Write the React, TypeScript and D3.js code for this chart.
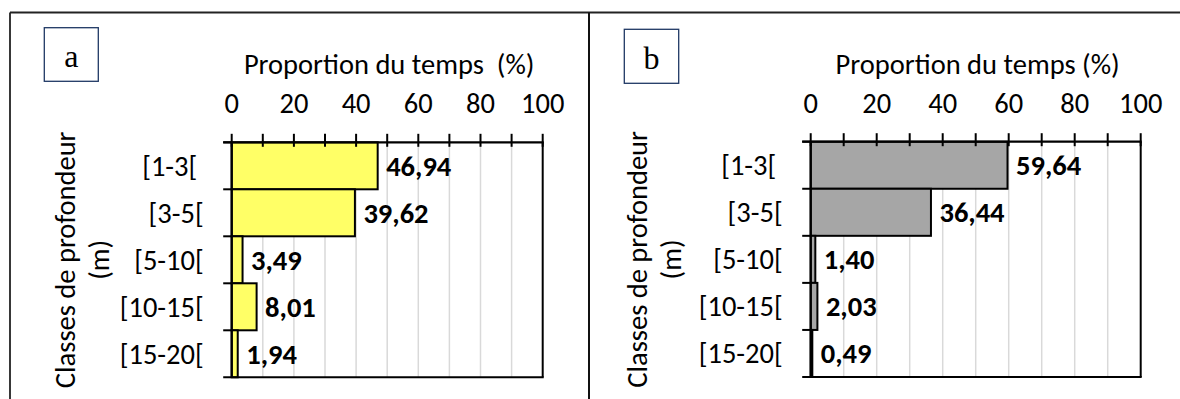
import React from "react";
import * as d3 from "d3";

// ---- data ----
const categories = ["[1-3[ ", "[3-5[", "[5-10[", "[10-15[", "[15-20["];
const valuesA = [46.94, 39.62, 3.49, 8.01, 1.94];
const valuesB = [59.64, 36.44, 1.4, 2.03, 0.49];
const tickLabels = [0, 20, 40, 60, 80, 100];
const minorTicks = [0, 10, 20, 30, 40, 50, 60, 70, 80, 90, 100];
const gridValues = [10, 20, 30, 40, 50, 60, 70, 80, 90];
const yTitleLines = ["Classes de profondeur", "(m)"];

// ---- layout ----
const W = 1180;
const H = 399;
const FONT = "Carlito, Calibri, Lato, sans-serif";

const panels = [
  {
    letter: "a",
    title: "Proportion du temps  (%)",
    values: valuesA,
    fill: "#ffff66",
    x0: 231.7,
    x1: 542.7,
    top: 142.3,
    bottom: 377.3,
    box: { x: 44.3, y: 27.7, w: 54, h: 53.6 },
    yTitleX: [65, 99],
    letterBaseline: 66.7,
  },
  {
    letter: "b",
    title: "Proportion du temps (%)",
    values: valuesB,
    fill: "#a6a6a6",
    x0: 810.7,
    x1: 1140.7,
    top: 141.7,
    bottom: 377,
    box: { x: 624.3, y: 29.3, w: 54.4, h: 54 },
    yTitleX: [637, 671],
    letterBaseline: 69.3,
  },
];

const locale = d3.formatLocale({
  decimal: ",",
  thousands: " ",
  grouping: [3],
  currency: ["", "€"],
});
const fmt = locale.format(".2f");

function Panel({ p }: { p: (typeof panels)[number] }) {
  const x = d3.scaleLinear().domain([0, 100]).range([p.x0, p.x1]);
  const y = d3
    .scaleBand<string>()
    .domain(categories)
    .range([p.top, p.bottom])
    .padding(0);
  const bw = y.bandwidth();
  const yMid = (p.top + p.bottom) / 2;
  const fs = 28.5;
  return (
    <g>
      {/* letter box */}
      <rect
        x={p.box.x}
        y={p.box.y}
        width={p.box.w}
        height={p.box.h}
        fill="#fff"
        stroke="#1f3864"
        strokeWidth={1.3}
      />
      <text
        x={p.box.x + p.box.w / 2}
        y={p.letterBaseline}
        textAnchor="middle"
        fontFamily="'Liberation Serif', 'Times New Roman', serif"
        fontSize={32}
        fill="#000"
      >
        {p.letter}
      </text>

      {/* axis title */}
      <text
        x={(p.x0 + p.x1) / 2 + 2}
        y={74}
        textAnchor="middle"
        fontFamily={FONT}
        fontSize={fs}
        fill="#000"
        style={{ whiteSpace: "pre" }}
      >
        {p.title}
      </text>

      {/* tick labels */}
      {tickLabels.map((t) => (
        <text
          key={"tl" + t}
          x={x(t)}
          y={113}
          textAnchor="middle"
          fontFamily={FONT}
          fontSize={fs}
          fill="#000"
        >
          {t}
        </text>
      ))}

      {/* gridlines */}
      {gridValues.map((g) => (
        <line
          key={"g" + g}
          x1={x(g)}
          x2={x(g)}
          y1={p.top}
          y2={p.bottom}
          stroke="#d9d9d9"
          strokeWidth={1.5}
        />
      ))}

      {/* bars */}
      {categories.map((c, i) => (
        <rect
          key={"b" + i}
          x={x(0)}
          y={y(c)!}
          width={x(p.values[i]) - x(0)}
          height={bw}
          fill={p.fill}
          stroke="#000"
          strokeWidth={2}
        />
      ))}

      {/* plot border right & bottom */}
      <line x1={p.x1} x2={p.x1} y1={p.top} y2={p.bottom} stroke="#000" strokeWidth={2} />
      <line x1={p.x0 - 8.5} x2={p.x1 + 1} y1={p.bottom} y2={p.bottom} stroke="#000" strokeWidth={2} />

      {/* top axis */}
      <line x1={p.x0 - 8.5} x2={p.x1 + 1} y1={p.top} y2={p.top} stroke="#000" strokeWidth={2.2} />
      {minorTicks.map((t) => (
        <line
          key={"mt" + t}
          x1={x(t)}
          x2={x(t)}
          y1={p.top - 8.5}
          y2={p.top + 4.5}
          stroke="#000"
          strokeWidth={2}
        />
      ))}

      {/* left axis */}
      <line x1={p.x0} x2={p.x0} y1={p.top} y2={p.bottom} stroke="#000" strokeWidth={2.2} />
      {categories.map((c, i) => (
        <line
          key={"ct" + i}
          x1={p.x0 - 8.5}
          x2={p.x0}
          y1={y(c)!}
          y2={y(c)!}
          stroke="#000"
          strokeWidth={2}
        />
      ))}

      {/* category labels */}
      {categories.map((c) => (
        <text
          key={"cl" + c}
          x={p.x0 - 28}
          y={y(c)! + bw / 2 + 10}
          textAnchor="end"
          fontFamily={FONT}
          fontSize={fs}
          fill="#000"
          style={{ whiteSpace: "pre" }}
        >
          {c}
        </text>
      ))}

      {/* value labels */}
      {categories.map((c, i) => (
        <text
          key={"vl" + i}
          x={x(p.values[i]) + 8.5}
          y={y(c)! + bw / 2 + 10}
          textAnchor="start"
          fontFamily={FONT}
          fontSize={fs}
          fontWeight="bold"
          fill="#000"
        >
          {fmt(p.values[i])}
        </text>
      ))}

      {/* y axis title */}
      {yTitleLines.map((line, i) => (
        <text
          key={"yt" + i}
          transform={`translate(${p.yTitleX[i] + 10},${yMid}) rotate(-90)`}
          textAnchor="middle"
          fontFamily={FONT}
          fontSize={fs}
          fill="#000"
        >
          {line}
        </text>
      ))}
    </g>
  );
}

export default function App() {
  return (
    <svg
      width={W}
      height={H}
      viewBox={`0 0 ${W} ${H}`}
      style={{ position: "absolute", left: 0, top: 0, background: "#fff" }}
    >
      <rect x={0} y={0} width={W} height={H} fill="#fff" />
      {panels.map((p) => (
        <Panel key={p.letter} p={p} />
      ))}
      {/* outer frame */}
      <line x1={10} x2={W} y1={12.5} y2={12.5} stroke="#222" strokeWidth={1.8} />
      <line x1={10} x2={10} y1={12.5} y2={H} stroke="#222" strokeWidth={1.8} />
      <line x1={589} x2={589} y1={12.5} y2={H} stroke="#111" strokeWidth={2} />
    </svg>
  );
}
